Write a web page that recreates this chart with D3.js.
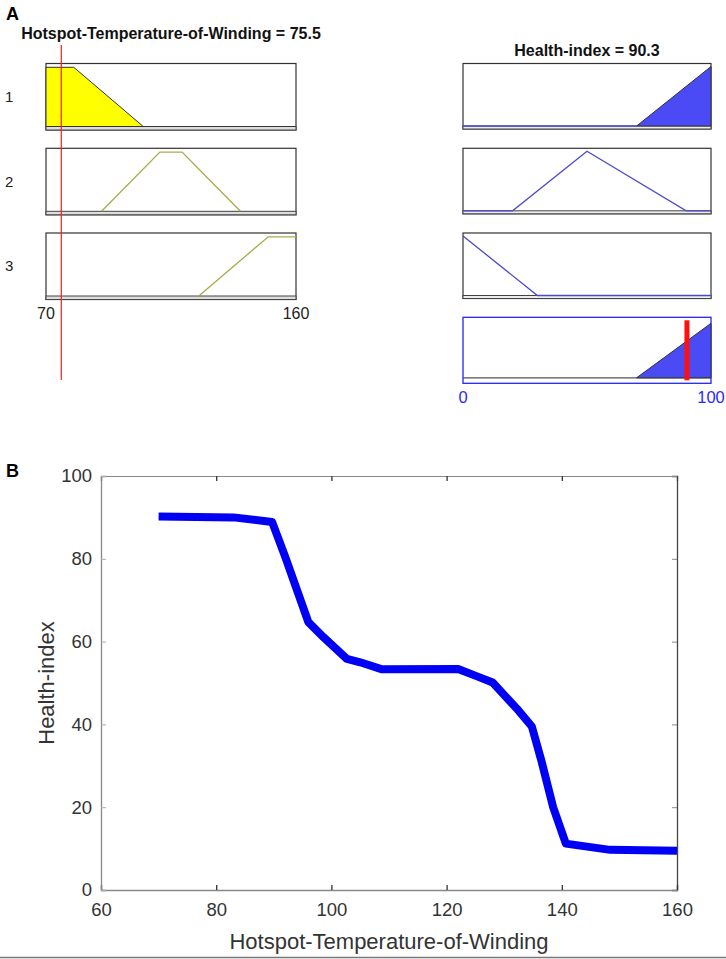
<!DOCTYPE html>
<html>
<head>
<meta charset="utf-8">
<script src="https://cdn.jsdelivr.net/npm/d3@7"></script>
<style>
  body { margin: 0; background: #fff; }
  svg { display: block; font-family: "Liberation Sans", Arial, sans-serif; }
</style>
</head>
<body>
<svg id="chart"></svg>
<script>
// Panel A: membership functions (input trapezoids, output triangles)
const inputName = "Hotspot-Temperature-of-Winding";
const outputName = "Health-index";
const inputValue = 75.5;
const outputValue = 90.3;
const inputRange = [70, 160];
const outputRange = [0, 100];
const inputTerms = [[70, 70, 80, 105], [90, 111, 119, 140], [125, 150, 160, 160]];
const outputTerms = [[70, 100, 130], [20, 50, 90], [-30, 0, 30]];
const ruleLabels = ["1", "2", "3"];

// Panel B: surface curve
const curveX = [70, 83, 89.7, 92, 93.4, 96, 98.6, 102.7, 105, 108.8, 122, 125.3, 128, 132.2, 134.8, 136.5, 138.5, 140.7, 148.4, 160];
const curveY = [90.2, 90, 88.9, 80.4, 74.9, 64.7, 61.1, 55.8, 55, 53.3, 53.4, 51.6, 50.1, 43.8, 39.5, 31, 20, 11.2, 9.7, 9.5];
const xTicks = [60, 80, 100, 120, 140, 160];
const yTicks = [0, 20, 40, 60, 80, 100];

const width = 726, height = 959;
const svg = d3.select("#chart").attr("width", width).attr("height", height);

const rowTop = [63.5, 148.3, 233, 317.3];
const boxH = 66.5;

function trap(p, x) {
  const [a, b, c, d] = p;
  if (x < a || x > d) return 0;
  if (x >= b && x <= c) return 1;
  if (x < b) return (x - a) / (b - a);
  return (d - x) / (d - c);
}
function tri(p, x) {
  const [a, b, c] = p;
  if (x <= a || x >= c) return x === b ? 1 : 0;
  return x <= b ? (x - a) / (b - a) : (c - x) / (c - b);
}
// breakpoints of a term inside a range, plus the ends
function pts(p, range, f) {
  const xs = [range[0], ...p, range[1]].filter(v => v >= range[0] && v <= range[1]);
  const uniq = Array.from(new Set(xs)).sort((a, b) => a - b);
  const out = [];
  uniq.forEach(v => {
    if (v === p[0] && p[0] === p[1]) out.push([v, 0]);
    out.push([v, f(p, v)]);
  });
  return out;
}

// ---- left column: input terms
const xIn = d3.scaleLinear().domain(inputRange).range([46, 296]);
inputTerms.forEach((p, i) => {
  const top = rowTop[i];
  const y = d3.scaleLinear().domain([0, 1]).range([top + 63, top + 3.8]);
  const g = svg.append("g");
  g.append("rect").attr("x", xIn(inputRange[0])).attr("y", top)
    .attr("width", xIn(inputRange[1]) - xIn(inputRange[0])).attr("height", boxH)
    .attr("fill", "#fff").attr("stroke", "#333").attr("stroke-width", 1.2);
  g.append("rect").attr("x", xIn(inputRange[0])).attr("y", y(0))
    .attr("width", xIn(inputRange[1]) - xIn(inputRange[0])).attr("height", top + boxH - y(0))
    .attr("fill", "#ddd").attr("stroke", "#444").attr("stroke-width", 1);
  const line = d3.line().x(d => xIn(d[0])).y(d => y(d[1]));
  const P = pts(p, inputRange, trap);
  if (i === 0) {
    g.append("path").attr("d", line(P) + "Z").attr("fill", "#ffff00")
      .attr("stroke", "#333").attr("stroke-width", 1);
  } else {
    // only the support of the term, the zero part sits on the base line
    const support = P.filter(d => d[0] >= p[0] && d[0] <= p[3]);
    g.append("path").attr("d", line(support))
      .attr("fill", "none").attr("stroke", "#a9a94a").attr("stroke-width", 1.3);
  }
  svg.append("text").attr("x", 5).attr("y", (top + boxH / 2) + 5)
    .attr("font-size", 15).attr("fill", "#222").text(ruleLabels[i]);
});
svg.append("text").attr("x", xIn(70)).attr("y", 319).attr("text-anchor", "middle")
  .attr("font-size", 16).attr("fill", "#222").text(inputRange[0]);
svg.append("text").attr("x", xIn(160)).attr("y", 319).attr("text-anchor", "middle")
  .attr("font-size", 16).attr("fill", "#222").text(inputRange[1]);
svg.append("line").attr("x1", xIn(inputValue)).attr("x2", xIn(inputValue))
  .attr("y1", 45).attr("y2", 380).attr("stroke", "#ff1a1a").attr("stroke-width", 1.2);
svg.append("text").attr("x", 171).attr("y", 39).attr("text-anchor", "middle")
  .attr("font-size", 16).attr("font-weight", "bold").attr("fill", "#111")
  .text(`${inputName} = ${inputValue}`);
svg.append("text").attr("x", 6).attr("y", 20).attr("font-size", 18)
  .attr("font-weight", "bold").text("A");

// ---- right column: output terms
const xOut = d3.scaleLinear().domain(outputRange).range([463, 711]);
outputTerms.forEach((p, i) => {
  const top = rowTop[i];
  const y = d3.scaleLinear().domain([0, 1]).range([top + 62.5, top + 3]);
  const g = svg.append("g");
  g.append("rect").attr("x", xOut(0)).attr("y", top)
    .attr("width", xOut(100) - xOut(0)).attr("height", boxH - 1)
    .attr("fill", "#fff").attr("stroke", "#333").attr("stroke-width", 1.2);
  g.append("rect").attr("x", xOut(0)).attr("y", y(0))
    .attr("width", xOut(100) - xOut(0)).attr("height", top + boxH - 1 - y(0))
    .attr("fill", "#eee").attr("stroke", "#444").attr("stroke-width", 1);
  const line = d3.line().x(d => xOut(d[0])).y(d => y(d[1]));
  const P = pts(p, outputRange, tri);
  if (i === 0) {
    const area = P.filter(d => d[0] >= p[0]);
    g.append("path").attr("d", line(area.concat([[outputRange[1], 0]])) + "Z")
      .attr("fill", "#4b4bf5").attr("stroke", "#333").attr("stroke-width", 1);
    g.append("path").attr("d", line(P.filter(d => d[0] <= p[0])))
      .attr("fill", "none").attr("stroke", "#4a4ad0").attr("stroke-width", 1.4);
  } else {
    g.append("path").attr("d", line(P)).attr("fill", "none")
      .attr("stroke", "#4a4ad0").attr("stroke-width", 1.3);
  }
});
// aggregated output box
{
  const top = rowTop[3];
  const y = d3.scaleLinear().domain([0, 1]).range([top + 60.5, top + 6]);
  svg.append("rect").attr("x", xOut(0)).attr("y", top)
    .attr("width", xOut(100) - xOut(0)).attr("height", boxH - 0.5)
    .attr("fill", "#fff").attr("stroke", "#2323ff").attr("stroke-width", 1.3);
  const p = outputTerms[0];
  const line = d3.line().x(d => xOut(d[0])).y(d => y(d[1]));
  svg.append("line").attr("x1", xOut(0)).attr("x2", xOut(100)).attr("y1", y(0)).attr("y2", y(0))
    .attr("stroke", "#555").attr("stroke-width", 1.2);
  svg.append("path").attr("d", line([[p[0], 0], [100, tri(p, 100)], [100, 0]]) + "Z")
    .attr("fill", "#4b4bf5").attr("stroke", "#333").attr("stroke-width", 1);
  svg.append("line").attr("x1", xOut(outputValue)).attr("x2", xOut(outputValue))
    .attr("y1", top + 3).attr("y2", top + 63).attr("stroke", "#ff1010").attr("stroke-width", 5);
}
svg.append("text").attr("x", xOut(0)).attr("y", 403).attr("text-anchor", "middle")
  .attr("font-size", 16.5).attr("fill", "#2a2aff").text(outputRange[0]);
svg.append("text").attr("x", xOut(100)).attr("y", 403).attr("text-anchor", "middle")
  .attr("font-size", 16.5).attr("fill", "#2a2aff").text(outputRange[1]);
svg.append("text").attr("x", 587).attr("y", 56).attr("text-anchor", "middle")
  .attr("font-size", 16).attr("font-weight", "bold").attr("fill", "#111")
  .text(`${outputName} = ${outputValue}`);

// ---- panel B
const x = d3.scaleLinear().domain([60, 160]).range([101, 677]);
const y = d3.scaleLinear().domain([0, 100]).range([890, 476]);

svg.append("text").attr("x", 6).attr("y", 477).attr("font-size", 18)
  .attr("font-weight", "bold").text("B");

// top and right frame with inward ticks
svg.append("g").attr("transform", `translate(0,${y(100)})`)
  .call(d3.axisTop(x).tickValues(xTicks).tickSize(-5).tickFormat(""))
  .call(g => g.select(".domain").attr("stroke", "#888"))
  .call(g => g.selectAll(".tick line").attr("stroke", "#333").attr("stroke-width", 1.3));
svg.append("g").attr("transform", `translate(${x(160)},0)`)
  .call(d3.axisRight(y).tickValues(yTicks).tickSize(-5).tickFormat(""))
  .call(g => g.select(".domain").attr("stroke", "#444").attr("stroke-width", 1.3))
  .call(g => g.selectAll(".tick line").attr("stroke", "#888"));

svg.append("g").attr("transform", `translate(0,${y(0)})`)
  .call(d3.axisBottom(x).tickValues(xTicks).tickSize(-5).tickPadding(13))
  .call(g => g.select(".domain").attr("stroke", "#888").attr("stroke-width", 1.3))
  .call(g => g.selectAll(".tick line").attr("stroke", "#333").attr("stroke-width", 1.3))
  .call(g => g.selectAll("text").attr("font-size", 18.5).attr("fill", "#333")
    .attr("font-family", "'Liberation Sans', Arial, sans-serif"));
svg.append("g").attr("transform", `translate(${x(60)},0)`)
  .call(d3.axisLeft(y).tickValues(yTicks).tickSize(-5).tickPadding(9))
  .call(g => g.select(".domain").attr("stroke", "#888").attr("stroke-width", 1.3))
  .call(g => g.selectAll(".tick line").attr("stroke", "#aaa"))
  .call(g => g.selectAll("text").attr("font-size", 18.5).attr("fill", "#333")
    .attr("font-family", "'Liberation Sans', Arial, sans-serif"));

const curve = curveX.map((v, i) => [v, curveY[i]]);
svg.append("path").datum(curve)
  .attr("d", d3.line().x(d => x(d[0])).y(d => y(d[1])))
  .attr("fill", "none").attr("stroke", "#0000f5").attr("stroke-width", 8)
  .attr("stroke-linejoin", "round");

svg.append("text").attr("x", (x(60) + x(160)) / 2).attr("y", 949).attr("text-anchor", "middle")
  .attr("font-size", 22).attr("fill", "#333").text(inputName);
svg.append("text").attr("transform", `translate(54,${(y(0) + y(100)) / 2}) rotate(-90)`)
  .attr("text-anchor", "middle").attr("font-size", 22).attr("fill", "#333").text(outputName);

svg.append("line").attr("x1", 0).attr("x2", width).attr("y1", 957.5).attr("y2", 957.5)
  .attr("stroke", "#777").attr("stroke-width", 1.5);
</script>
</body>
</html>
